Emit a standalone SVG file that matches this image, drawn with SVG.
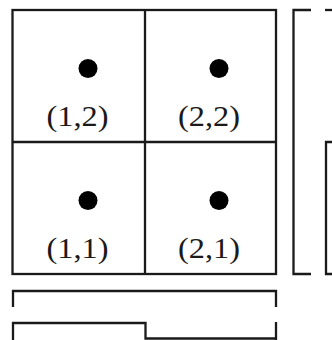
<svg xmlns="http://www.w3.org/2000/svg" width="332" height="340" viewBox="0 0 332 340">
<style>
.ln{fill:none;stroke:#1a1a1a;stroke-width:2.3;stroke-linecap:butt;stroke-linejoin:miter}
.dot{fill:#000}
.lb{font-family:"Liberation Serif","Times New Roman",serif;font-size:28.5px;fill:#1a1a1a;text-anchor:middle}
</style>
<rect width="332" height="340" fill="#fff"/>
<g id="grid">
<rect class="ln" x="12.5" y="10" width="263.5" height="264"/>
<line class="ln" x1="145" y1="10" x2="145" y2="274"/>
<line class="ln" x1="12.5" y1="142" x2="276" y2="142"/>
</g>
<g id="cell12">
<circle class="dot" cx="88" cy="68.5" r="9.5"/>
<text class="lb" x="77.5" y="126" textLength="62" lengthAdjust="spacingAndGlyphs">(1,2)</text>
</g>
<g id="cell22">
<circle class="dot" cx="219" cy="68.5" r="9.5"/>
<text class="lb" x="209" y="126" textLength="62" lengthAdjust="spacingAndGlyphs">(2,2)</text>
</g>
<g id="cell11">
<circle class="dot" cx="88" cy="200.5" r="9.5"/>
<text class="lb" x="77.5" y="257.5" textLength="62" lengthAdjust="spacingAndGlyphs">(1,1)</text>
</g>
<g id="cell21">
<circle class="dot" cx="219" cy="200.5" r="9.5"/>
<text class="lb" x="209" y="257.5" textLength="62" lengthAdjust="spacingAndGlyphs">(2,1)</text>
</g>
<g id="right">
<polyline class="ln" points="311,10 293.5,10 293.5,274 311,274"/>
<line class="ln" x1="325" y1="10" x2="332" y2="10"/>
<polyline class="ln" points="332,142 326,142 326,274 332,274"/>
</g>
<g id="bottom">
<polyline class="ln" points="13,307 13,291 276,291 276,307"/>
<polyline class="ln" points="13,340 13,323 145.5,323 145.5,338.5 276,338.5"/>
<line class="ln" x1="276" y1="322" x2="276" y2="340"/>
</g>
</svg>
